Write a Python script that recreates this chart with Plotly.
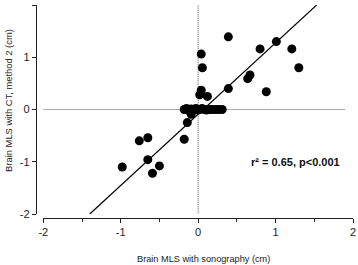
import plotly.graph_objects as go

# Data (cm)
sono_x = [0.39, 1.01, 0.80, 1.21, 0.04, 0.055, 1.30, 0.67, 0.64, 0.39, 0.88,
          0.04, 0.02, 0.12,
          -0.18, -0.15, -0.12, -0.09, -0.06, -0.03, 0.0, 0.02, 0.05, 0.08, 0.11,
          0.15, 0.19, 0.23, 0.27, 0.31,
          -0.09, -0.14,
          -0.76, -0.65, -0.18, -0.65, -0.98, -0.50, -0.59]
ct_y = [1.39, 1.30, 1.16, 1.16, 1.06, 0.80, 0.80, 0.66, 0.59, 0.40, 0.34,
        0.37, 0.28, 0.25,
        0.0, 0.02, -0.02, 0.01, 0.0, 0.02, -0.01, 0.0, 0.02, 0.0, -0.01,
        0.0, 0.0, 0.0, 0.0, 0.0,
        -0.09, -0.25,
        -0.60, -0.54, -0.57, -0.96, -1.10, -1.08, -1.22]

# Regression line
slope = 1.365
intercept = -0.09
line_x = [-1.40, 1.53]
line_y = [slope * v + intercept for v in line_x]

tick_vals = [-2, -1, 0, 1, 2]
tick_text = ["-2", "-1", "0", "1", "2"]
x_title = "Brain MLS with sonography (cm)"
y_title = "Brain MLS with CT, method 2 (cm)"
stat_text = "r² = 0.65, p<0.001"

FONT = "Liberation Sans, Arial, sans-serif"

fig = go.Figure()
fig.add_trace(go.Scatter(x=line_x, y=line_y, mode="lines",
                         line=dict(color="black", width=1.2), hoverinfo="skip"))
fig.add_trace(go.Scatter(x=sono_x, y=ct_y, mode="markers",
                         marker=dict(color="black", size=9, line=dict(width=0))))

# Dotted reference lines
fig.add_shape(type="line", xref="x", yref="y", x0=-2.1, x1=1.9, y0=0, y1=0,
              line=dict(color="#555555", width=1, dash="1px,1px"), layer="below")
fig.add_shape(type="line", xref="x", yref="y", x0=0, x1=0, y0=-2.09, y1=2.0,
              line=dict(color="#555555", width=1, dash="1px,1px"), layer="below")

fig.update_layout(
    width=358, height=265,
    margin=dict(l=36, r=5, t=5, b=47, autoexpand=False),
    plot_bgcolor="white", paper_bgcolor="white",
    showlegend=False,
    font=dict(family=FONT, size=11, color="#222222"),
    xaxis=dict(range=[-2, 2], domain=[0.023, 1], anchor="free", position=0,
               automargin=False,
               showgrid=False, zeroline=False, showline=True,
               linecolor="#222222", linewidth=1.3,
               ticks="outside", ticklen=4, tickwidth=1.2, tickcolor="#222222",
               tickvals=tick_vals, ticktext=tick_text,
               minor=dict(ticks="outside", ticklen=3, tickwidth=1, dtick=0.5,
                          tickcolor="#222222")),
    yaxis=dict(range=[-2, 2], domain=[0.0188, 1], anchor="free", position=0,
               automargin=False,
               showgrid=False, zeroline=False, showline=True,
               linecolor="#222222", linewidth=1.3,
               ticks="outside", ticklen=4, tickwidth=1.2, tickcolor="#222222",
               tickvals=tick_vals, ticktext=tick_text),
)

fig.add_annotation(text=x_title, xref="paper", yref="paper", x=0.528, y=-0.192,
                   showarrow=False, font=dict(size=9.2, color="#222222"),
                   xanchor="center", yanchor="middle")
fig.add_annotation(text=y_title, xref="paper", yref="paper", x=-0.085, y=0.55,
                   showarrow=False, textangle=-90, font=dict(size=9.4, color="#222222"),
                   xanchor="center", yanchor="middle")
fig.add_annotation(text="<b>" + stat_text + "</b>", xref="paper", yref="paper",
                   x=0.82, y=0.263, showarrow=False,
                   font=dict(size=11, color="#111111"),
                   xanchor="center", yanchor="middle")

fig.write_html("out.html", config={"displayModeBar": False})

# remove the browser's default body margin so the figure sits at the page corner
with open("out.html", "r", encoding="utf-8") as f:
    html = f.read()
html = html.replace("<head>", "<head><style>html,body{margin:0;padding:0;overflow:hidden;}</style>", 1)
with open("out.html", "w", encoding="utf-8") as f:
    f.write(html)
